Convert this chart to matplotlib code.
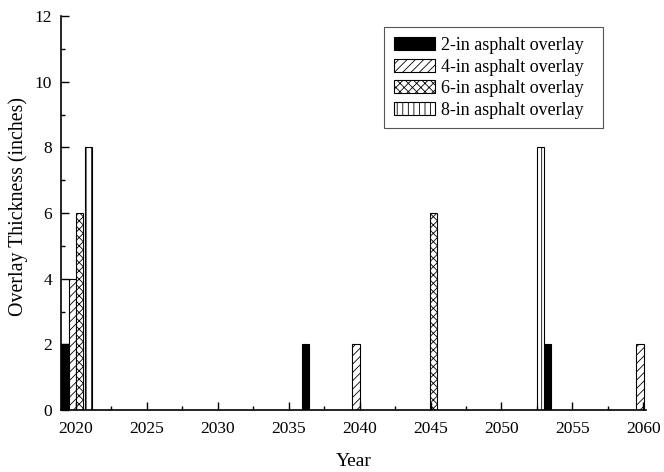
import matplotlib.pyplot as plt
from matplotlib.ticker import MultipleLocator

plt.rcParams['font.family'] = ['Liberation Serif', 'DejaVu Serif']
plt.rcParams['hatch.linewidth'] = 0.6

# bar positions (year) and heights per overlay type
yr_2in = [2019.22, 2036.2, 2053.25]
th_2in = [2, 2, 2]
yr_4in = [2019.75, 2039.75, 2059.77]
th_4in = [4, 2, 2]
yr_6in = [2020.25, 2045.2]
th_6in = [6, 6]
yr_8in = [2020.9, 2052.75]
th_8in = [8, 8]

labels = ['2-in asphalt overlay', '4-in asphalt overlay',
          '6-in asphalt overlay', '8-in asphalt overlay']

fig = plt.figure(figsize=(6.64, 4.72), dpi=100)
ax = fig.add_axes([0.092, 0.131, 0.881, 0.835])

w = 0.52
ax.bar(yr_2in, th_2in, width=w, color='black', edgecolor='black', linewidth=0.8, label=labels[0])
ax.bar(yr_4in, th_4in, width=w, color='white', edgecolor='black', linewidth=0.8, hatch='////', label=labels[1])
ax.bar(yr_6in, th_6in, width=w, color='white', edgecolor='black', linewidth=0.8, hatch='xxxx', label=labels[2])
ax.bar(yr_8in, th_8in, width=w, color='white', edgecolor='black', linewidth=0.8, hatch='|||', label=labels[3])

ax.set_xlim(2018.95, 2060.2)
ax.set_ylim(0, 12)
ax.xaxis.set_major_locator(MultipleLocator(5))
ax.xaxis.set_minor_locator(MultipleLocator(2.5))
ax.yaxis.set_major_locator(MultipleLocator(2))
ax.yaxis.set_minor_locator(MultipleLocator(1))
ax.tick_params(which='major', direction='in', length=6, width=1, labelsize=12.5)
ax.tick_params(axis='x', which='major', pad=8)
ax.tick_params(axis='y', which='major', pad=6.5)
ax.tick_params(which='minor', direction='in', length=3, width=1)
ax.spines['top'].set_visible(False)
ax.spines['right'].set_visible(False)
ax.spines['left'].set_linewidth(1.2)
ax.spines['bottom'].set_linewidth(1.2)

ax.set_xlabel('Year', fontsize=14, labelpad=11)
ax.set_ylabel('Overlay Thickness (inches)', fontsize=14.3)
ax.yaxis.set_label_coords(-0.056, 0.518)

leg = ax.legend(loc='upper left', bbox_to_anchor=(0.552, 0.972, 0.374, 0.0),
                mode='expand', fontsize=13,
                fancybox=False, edgecolor='#555555', framealpha=1,
                handlelength=2.3, handleheight=0.75, handletextpad=0.3,
                labelspacing=0.25, borderpad=0.55, borderaxespad=0)
leg.get_frame().set_linewidth(0.8)

fig.savefig('out.png', dpi=100)
